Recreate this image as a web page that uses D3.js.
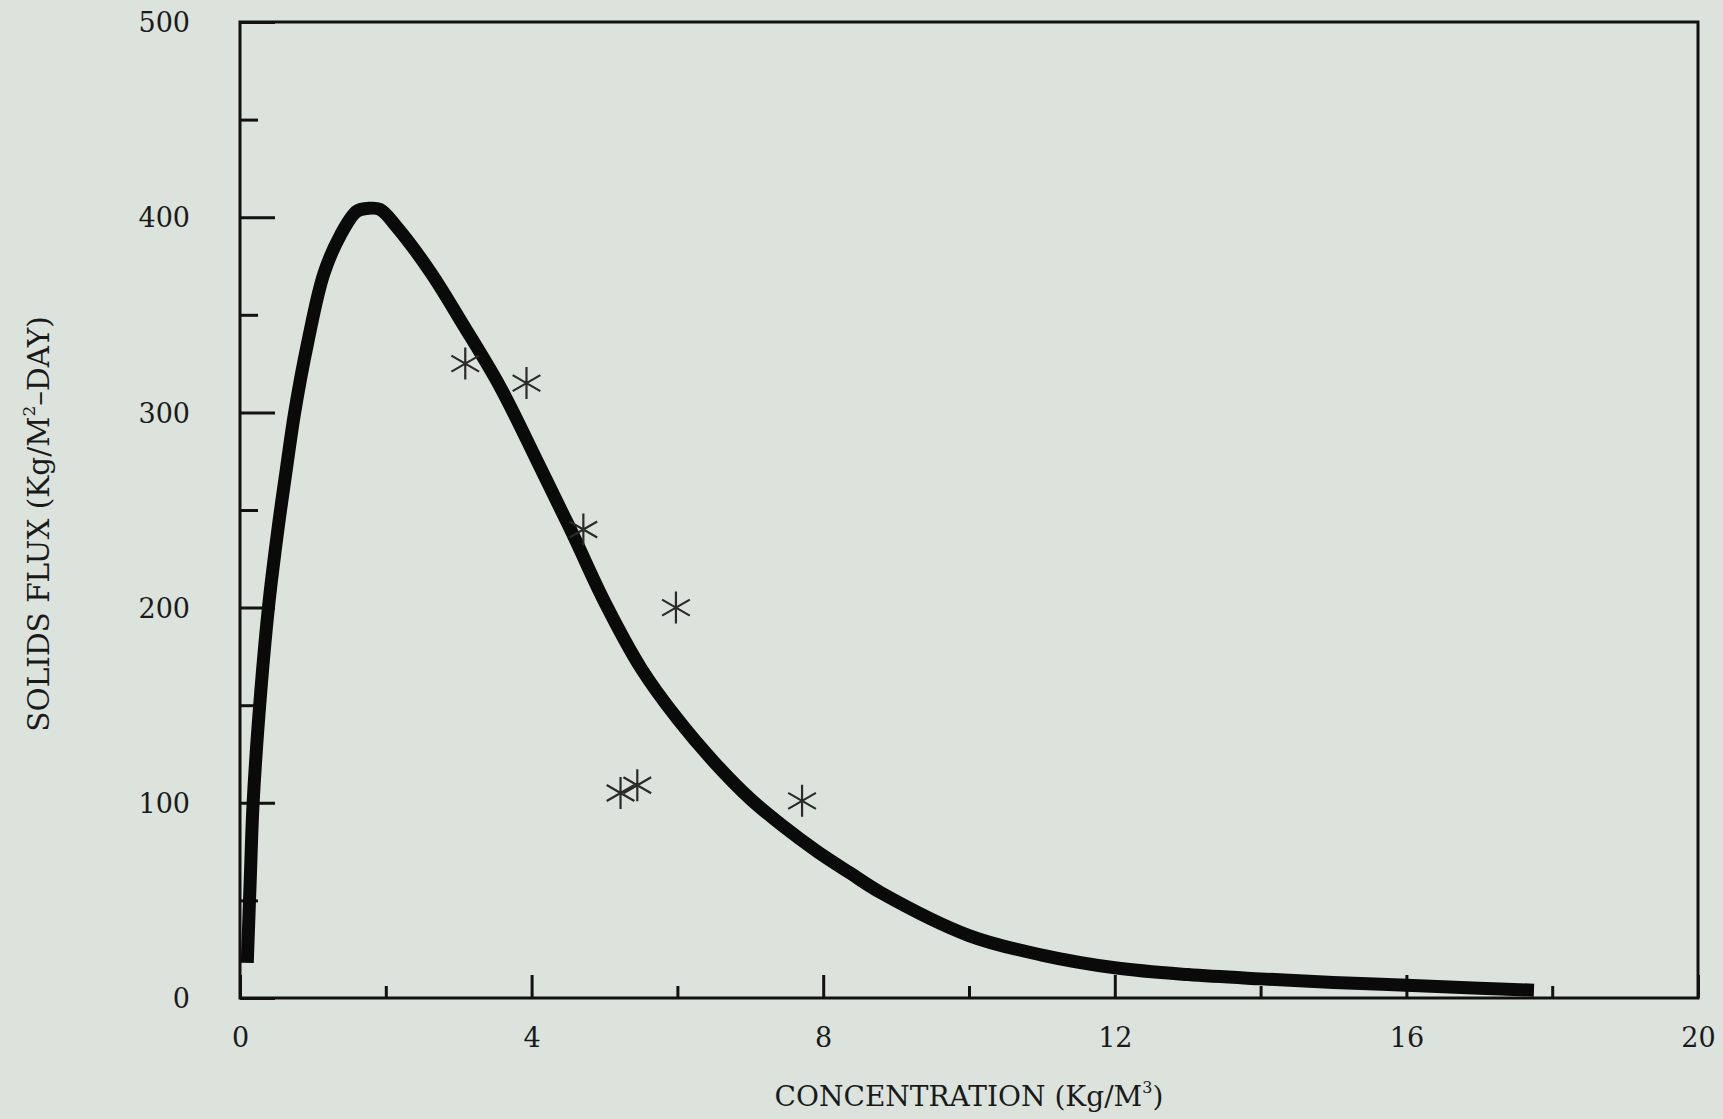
<!DOCTYPE html>
<html>
<head>
<meta charset="utf-8">
<script src="https://cdn.jsdelivr.net/npm/d3@7"></script>
<style>
  html, body { margin: 0; padding: 0; background: #dce3dd; }
  svg { display: block; }
  text { font-family: "DejaVu Serif", "Liberation Serif", serif; fill: #1a1a1a; }
</style>
</head>
<body>
<svg id="chart" width="1723" height="1119"></svg>
<script>
// ---- data ----
const curveX = [0.10, 0.14, 0.18, 0.27, 0.39, 0.52, 0.64, 0.75, 0.93, 1.15, 1.38, 1.60, 1.75, 1.92, 2.15, 2.61, 3.06, 3.57, 4.09, 4.56, 5.00, 5.50, 6.00, 6.50, 7.00, 7.45, 7.92, 8.37, 8.79, 10.0, 11.0, 12.0, 13.0, 14.0, 15.0, 16.0, 17.0, 17.75];
const curveY = [18, 60, 100, 150, 200, 240, 272, 300, 336, 371, 391, 403, 404.5, 404, 395, 372, 345, 313, 274, 238, 203, 169, 143, 121, 102, 88, 75, 64, 54, 32, 22, 15.5, 12, 9.8, 8, 6.5, 5, 4];
const obsX = [3.09, 3.93, 4.71, 5.98, 5.22, 5.45, 7.71];
const obsY = [325, 315, 240, 200, 105, 109, 101];
const xMajorTicks = [0, 4, 8, 12, 16, 20];
const xMinorTicks = [2, 6, 10, 14, 18];
const yMajorTicks = [0, 100, 200, 300, 400, 500];
const yMinorTicks = [50, 150, 250, 350, 450];

const svg = d3.select("#chart");
const L = 240, R = 1698, T = 22, B = 998;
const x = d3.scaleLinear().domain([0, 20]).range([L, R]);
const y = d3.scaleLinear().domain([0, 500]).range([B, T]);
const ink = "#111";

// frame
svg.append("rect").attr("x", L).attr("y", T).attr("width", R - L).attr("height", B - T)
  .attr("fill", "none").attr("stroke", ink).attr("stroke-width", 3);

// y axis major / minor (inward ticks)
const yMaj = svg.append("g").attr("transform", `translate(${L},0)`)
  .call(d3.axisLeft(y).tickValues(yMajorTicks).tickSize(-35).tickPadding(50).tickFormat(d3.format("d")));
const yMin = svg.append("g").attr("transform", `translate(${L},0)`)
  .call(d3.axisLeft(y).tickValues(yMinorTicks).tickSize(-18).tickFormat(""));
// x axis major / minor
const xMaj = svg.append("g").attr("transform", `translate(0,${B})`)
  .call(d3.axisBottom(x).tickValues(xMajorTicks).tickSize(-23).tickPadding(50).tickFormat(d3.format("d")));
const xMin = svg.append("g").attr("transform", `translate(0,${B})`)
  .call(d3.axisBottom(x).tickValues(xMinorTicks).tickSize(-12).tickFormat(""));

[yMaj, yMin, xMaj, xMin].forEach(g => {
  g.select(".domain").remove();
  g.selectAll(".tick line").attr("stroke", ink).attr("stroke-width", 3);
  g.selectAll(".tick text").attr("fill", "#1a1a1a")
    .style("font-family", '"DejaVu Serif", serif').style("font-size", "27px");
});
yMaj.selectAll(".tick text").attr("dy", "0.36em");
xMaj.selectAll(".tick text").attr("dy", "0em").attr("y", 49);

// curve
const pts = curveX.map((v, i) => [v, curveY[i]]);
const line = d3.line().x(d => x(d[0])).y(d => y(d[1])).curve(d3.curveCatmullRom.alpha(0.5));
svg.append("path").datum(pts).attr("d", line)
  .attr("fill", "none").attr("stroke", "#0a0a0a").attr("stroke-width", 13)
  .attr("stroke-linejoin", "round").attr("stroke-linecap", "butt");

// observed points (asterisks)
function asterisk(r) {
  const t = r / 2, u = t * Math.sqrt(3);
  return `M0,${-r}L0,${r}M${-u},${-t}L${u},${t}M${-u},${t}L${u},${-t}`;
}
svg.append("g").selectAll("path").data(obsX.map((v, i) => [v, obsY[i]])).join("path")
  .attr("transform", d => `translate(${x(d[0])},${y(d[1])})`)
  .attr("d", asterisk(16))
  .attr("fill", "none").attr("stroke", "#2a2a2a").attr("stroke-width", 2.2);

// axis titles
const xt = svg.append("text").attr("x", 969).attr("y", 1106).attr("text-anchor", "middle")
  .style("font-size", "28px");
xt.append("tspan").text("CONCENTRATION (Kg/M");
xt.append("tspan").text("3").style("font-size", "16px").attr("dy", -13);
xt.append("tspan").text(")").attr("dy", 13);

const yt = svg.append("text").attr("transform", "translate(49,524) rotate(-90)")
  .attr("text-anchor", "middle").style("font-size", "29.5px");
yt.append("tspan").text("SOLIDS FLUX (Kg/M");
yt.append("tspan").text("2").style("font-size", "17px").attr("dy", -14);
yt.append("tspan").text("\u2013DAY)").attr("dy", 14);
</script>
</body>
</html>
